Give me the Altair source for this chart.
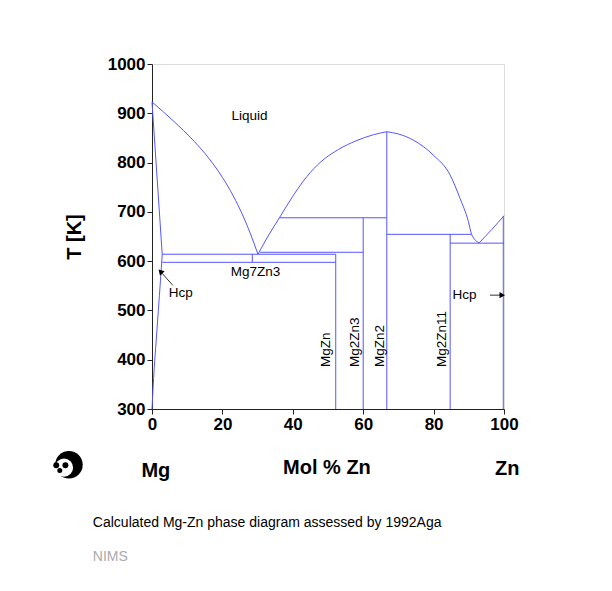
import altair as alt
import pandas as pd

BLUE = "#5555ff"
FONT = "Liberation Sans"

# ---- curves (X = mol % Zn, T in K) ----
curve_names = ["liq_left", "liq_dome_left", "liq_dome_right", "liq_zn", "mg_solidus", "mg_solvus"]
curve_x = [
    [0, 6, 12, 16, 20, 23, 26, 28, 30.1],
    [30.1, 33, 36.2, 40, 44, 48, 53, 58, 62.9, 66.7],
    [66.7, 70, 74.2, 79.9, 84.7, 87.5, 89.9, 90.8, 92.9],
    [92.9, 96.5, 100],
    [0, 2.9],
    [0, 0.6, 1.2, 1.8, 2.4, 2.9],
]
curve_t = [
    [923, 885, 843, 810, 770, 733.5, 689.5, 655, 614],
    [614, 651, 688, 731.7, 771.7, 801.7, 826.7, 844.2, 856.5, 862.6],
    [862.6, 858, 845.7, 815.3, 774.7, 727.5, 680, 654.4, 637],
    [637, 664, 692],
    [923, 614],
    [300, 380, 440, 500, 560, 614],
]

# ---- straight segments: horizontal invariants and compound lines ----
seg_x1 = [2.9, 2.9, 30.7, 36.2, 66.7, 84.7, 28.5, 52.2, 60.0, 66.7, 84.7, 99.8]
seg_x2 = [52.2, 52.2, 60.0, 66.7, 90.8, 100, 28.5, 52.2, 60.0, 66.7, 84.7, 99.8]
seg_t1 = [614, 597.6, 618, 688, 654.4, 636.5, 597.6, 300, 300, 300, 300, 300]
seg_t2 = [614, 597.6, 618, 688, 654.4, 636.5, 614, 614, 688, 862.6, 654.4, 692]

# ---- phase labels ----
lab_text = ["Liquid", "Mg7Zn3", "Hcp", "Hcp"]
lab_x = [27.7, 29.4, 8.2, 88.8]
lab_t = [894, 578.6, 535, 531]

rot_text = ["MgZn", "Mg2Zn3", "MgZn2", "Mg2Zn11"]
rot_x = [49.4, 57.6, 64.9, 82.5]
rot_t = [385, 385, 385, 385]

# ---- arrows ----
arr_x1 = [5.9, 96.0]
arr_t1 = [551, 531]
arr_x2 = [2.4, 99.5]
arr_t2 = [579, 531]
arr_angle = [317, 90]

# ---- outer texts ----
big_text = ["T [K]", "Mol % Zn", "Mg", "Zn"]
big_x = [-21.9, 49.7, 1.1, 100.9]
big_t = [649, 180, 174, 178]
big_angle = [270, 0, 0, 0]

cap_text = ["Calculated Mg-Zn phase diagram assessed by 1992Aga", "NIMS"]
cap_x = [-16.8, -16.8]
cap_t = [68.5, -0.5]
cap_color = ["#000000", "#aaaaaa"]

# panda icon (black blob, white face, dark eye patches)
panda_x = [-23.6, -25.0, -27.2, -24.6, -26.2]
panda_t = [187, 181, 186, 186, 175]
panda_size = [760, 330, 35, 35, 25]
panda_color = ["#000000", "#ffffff", "#000000", "#000000", "#000000"]

# ---- build tables ----
rows = []
for n, xs_, ts_ in zip(curve_names, curve_x, curve_t):
    for i, (a, b) in enumerate(zip(xs_, ts_)):
        rows.append({"curve": n, "i": i, "x": a, "t": b})
curves_df = pd.DataFrame(rows)
seg_df = pd.DataFrame({"x": seg_x1, "x2": seg_x2, "t": seg_t1, "t2": seg_t2})
lab_df = pd.DataFrame({"text": lab_text, "x": lab_x, "t": lab_t})
rot_df = pd.DataFrame({"text": rot_text, "x": rot_x, "t": rot_t})
arr_df = pd.DataFrame({"x": arr_x1, "t": arr_t1, "x2": arr_x2, "t2": arr_t2, "angle": arr_angle})
big_df = pd.DataFrame({"text": big_text, "x": big_x, "t": big_t, "angle": big_angle})
cap_df = pd.DataFrame({"text": cap_text, "x": cap_x, "t": cap_t, "color": cap_color})
panda_df = pd.DataFrame({"x": panda_x, "t": panda_t, "size": panda_size, "color": panda_color})

xs = alt.Scale(domain=[0, 100], nice=False, zero=False)
ys = alt.Scale(domain=[300, 1000], nice=False, zero=False)

X = alt.X("x:Q", scale=xs, title=None,
          axis=alt.Axis(values=list(range(0, 101, 10)), format="d",
                        labelExpr="datum.value % 20 == 0 ? datum.label : ''",
                        grid=False, tickSize=5, labelPadding=2,
                        labelFont=FONT, labelFontSize=17, labelFontWeight="bold",
                        labelColor="black", domainColor="#222", tickColor="#222",
                        labelFlush=False))
Y = alt.Y("t:Q", scale=ys, title=None,
          axis=alt.Axis(values=list(range(300, 1001, 100)), format="d", grid=False,
                        tickSize=5, labelPadding=2, labelFont=FONT, labelFontSize=17,
                        labelFontWeight="bold", labelColor="black",
                        domainColor="#222", tickColor="#222"))

curves = alt.Chart(curves_df).mark_line(color=BLUE, strokeWidth=1,
                                        interpolate="monotone").encode(
    x=X, y=Y, detail="curve:N", order="i:Q")

segs = alt.Chart(seg_df).mark_rule(color=BLUE, strokeWidth=1).encode(
    x=alt.X("x:Q", scale=xs), x2="x2:Q", y=alt.Y("t:Q", scale=ys), y2="t2:Q")

labels = alt.Chart(lab_df).mark_text(font=FONT, fontSize=13.5, color="black").encode(
    x=alt.X("x:Q", scale=xs), y=alt.Y("t:Q", scale=ys), text="text:N")

rot = alt.Chart(rot_df).mark_text(font=FONT, fontSize=13.5, color="black", angle=270,
                                  align="left", baseline="middle").encode(
    x=alt.X("x:Q", scale=xs), y=alt.Y("t:Q", scale=ys), text="text:N")

arr_lines = alt.Chart(arr_df).mark_rule(color="#333", strokeWidth=1).encode(
    x=alt.X("x:Q", scale=xs), x2="x2:Q", y=alt.Y("t:Q", scale=ys), y2="t2:Q")
arr_heads = alt.Chart(arr_df).mark_point(shape="triangle-up", filled=True, color="black",
                                         size=40, opacity=1).encode(
    x=alt.X("x2:Q", scale=xs), y=alt.Y("t2:Q", scale=ys),
    angle=alt.Angle("angle:Q", scale=None))

big = alt.Chart(big_df).mark_text(font=FONT, fontSize=20, fontWeight="bold",
                                  color="black").encode(
    x=alt.X("x:Q", scale=xs), y=alt.Y("t:Q", scale=ys), text="text:N",
    angle=alt.Angle("angle:Q", scale=None))

caps = alt.Chart(cap_df).mark_text(font=FONT, fontSize=14, align="left").encode(
    x=alt.X("x:Q", scale=xs), y=alt.Y("t:Q", scale=ys), text="text:N",
    color=alt.Color("color:N", scale=None))

panda = alt.Chart(panda_df).mark_circle(opacity=1).encode(
    x=alt.X("x:Q", scale=xs), y=alt.Y("t:Q", scale=ys),
    size=alt.Size("size:Q", scale=None), color=alt.Color("color:N", scale=None))

chart = alt.layer(curves, segs, labels, rot, arr_lines, arr_heads, big, caps, panda).properties(
    width=352, height=345,
    autosize=alt.AutoSizeParams(type="none"),
    padding={"left": 152, "top": 64, "right": 108, "bottom": 182},
).configure_view(stroke="#222", strokeWidth=1.2).configure(background="white")

chart.save("out.html", embed_options={"renderer": "svg", "actions": False})
